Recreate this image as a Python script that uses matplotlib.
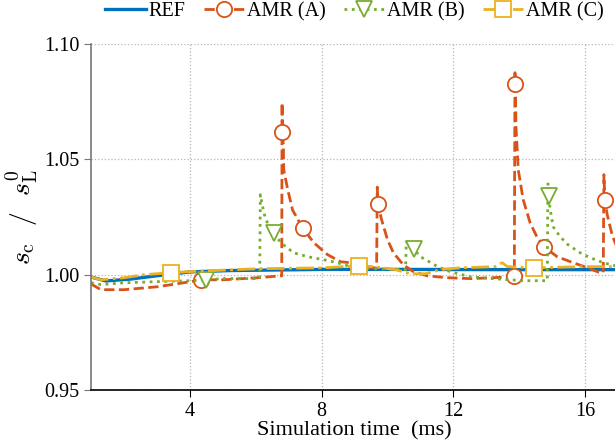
import numpy as np
import matplotlib
matplotlib.use("Agg")
import matplotlib.pyplot as plt

plt.rcParams['font.family'] = ['Liberation Serif', 'DejaVu Serif']
plt.rcParams['mathtext.fontset'] = 'cm'

# normalised consumption speed vs simulation time (ms)
t_ref = [1.0, 1.45, 2.2, 3.2, 4.0, 5.2, 8.0, 10.4, 13.4, 17.0]
v_ref = [0.9990, 0.9973, 0.9981, 0.9999, 1.0012, 1.0018, 1.0023, 1.0023, 1.0022, 1.0022]

t_a = [1.0, 1.30, 2.0, 3.03, 4.03, 4.33, 5.03, 6.06, 6.76, 6.79,
       6.80, 6.81, 6.84, 6.85, 6.97, 7.12, 7.42, 7.76, 8.18, 8.58,
       8.88, 9.09, 9.58, 9.67, 9.69, 9.71, 9.82, 10.0, 10.18, 10.48,
       10.79, 11.21, 11.82, 12.52, 13.21, 13.73, 13.85, 13.87, 13.88, 13.90,
       13.97, 14.12, 14.33, 14.55, 14.76, 15.15, 15.64, 16.15, 16.39, 16.55,
       16.57, 16.60, 16.67, 16.82, 16.91, 17.0]
v_a = [0.9960, 0.9935, 0.9935, 0.9948, 0.9970, 0.9978, 0.9978, 0.9987, 0.9995, 0.9995,
       1.0746, 1.0620, 1.0555, 1.0455, 1.0370, 1.0280, 1.0204, 1.0139, 1.0087, 1.0056,
       1.0052, 1.0043, 1.0030, 1.0029, 1.0380, 1.0308, 1.0239, 1.0152, 1.0095, 1.0043,
       1.0013, 0.9995, 0.9987, 0.9983, 0.9987, 0.9991, 0.9995, 1.0876, 1.0828, 1.0642,
       1.0455, 1.0325, 1.0225, 1.0160, 1.0121, 1.0078, 1.0052, 1.0026, 1.0012, 1.0010,
       1.0434, 1.0325, 1.0260, 1.0173, 1.0139, 1.0110]
mark_a = [4.33, 6.81, 7.42, 9.71, 13.85, 13.88, 14.76, 16.60]

t_b = [1.0, 1.30, 2.0, 3.03, 4.03, 4.48, 5.03, 6.06, 6.12, 6.14,
       6.21, 6.30, 6.55, 6.76, 7.15, 7.58, 8.06, 8.48, 8.88, 9.58,
       10.48, 10.55, 10.57, 10.79, 11.0, 11.21, 11.52, 11.91, 12.52, 13.21,
       14.12, 14.73, 14.85, 14.87, 14.89, 14.94, 15.03, 15.24, 15.48, 15.85,
       16.15, 16.55, 16.91, 17.0]
v_b = [0.9965, 0.9957, 0.9965, 0.9970, 0.9974, 0.9978, 0.9983, 0.9983, 0.9983, 1.0347,
       1.0295, 1.0239, 1.0182, 1.0139, 1.0095, 1.0078, 1.0065, 1.0052, 1.0035, 1.0026,
       1.0022, 1.0022, 1.0143, 1.0113, 1.0078, 1.0061, 1.0035, 1.0013, 0.9991, 0.9983,
       0.9974, 0.9974, 0.9974, 1.0399, 1.0343, 1.0282, 1.0208, 1.0165, 1.0130, 1.0095,
       1.0074, 1.0052, 1.0039, 1.0037]
mark_b = [4.48, 6.55, 10.79, 14.89]

t_c = [1.0, 1.30, 2.0, 2.61, 3.42, 3.94, 4.55, 6.06, 8.06, 9.12,
       9.58, 10.24, 10.70, 11.15, 11.6, 12.21, 13.27, 13.48, 13.64, 14.45,
       15.94, 17.0]
v_c = [0.9990, 0.9978, 0.9987, 1.0000, 1.0009, 1.0013, 1.0017, 1.0026, 1.0030, 1.0039,
       1.0035, 1.0022, 1.0004, 1.0004, 1.0022, 1.0030, 1.0035, 1.0052, 1.0035, 1.0030,
       1.0035, 1.0035]
mark_c = [3.42, 9.12, 14.45]


def mark_idx(t, marks):
    t = np.asarray(t)
    return [int(np.argmin(np.abs(t - m))) for m in marks]


fig = plt.figure(figsize=(6.15, 4.41), dpi=100)
ax = fig.add_axes([0.148, 0.1156, 0.857, 0.7844])

ax.plot(t_ref, v_ref, '-', color='#0072BD', lw=2.4, label='REF')
ax.plot(t_a, v_a, '--', color='#D95319', lw=2, marker='o', ms=11, mfc='white',
        mew=1.3, markevery=mark_idx(t_a, mark_a), label='AMR (A)')
ax.plot(t_b, v_b, ':', color='#77AC30', lw=2, marker='v', ms=11, mfc='white',
        mew=1.3, markevery=mark_idx(t_b, mark_b), label='AMR (B)')
ax.plot(t_c, v_c, '-.', color='#EDB120', lw=2, marker='s', ms=11, mfc='white',
        mew=1.3, markevery=mark_idx(t_c, mark_c), label='AMR (C)')

ax.set_xlim(1, 17)
ax.set_ylim(0.95, 1.10)
ax.set_xticks([4, 8, 12, 16])
ax.set_yticks([0.95, 1.00, 1.05, 1.10])
ax.set_yticklabels(['0.95', '1.00', '1.05', '1.10'])
ax.grid(True, ls=':', color='#b5b5b5', lw=0.9)
ax.set_axisbelow(True)

for s in ['top', 'right']:
    ax.spines[s].set_visible(False)
ax.spines['left'].set_color('#777777')
ax.spines['left'].set_linewidth(1.2)
ax.spines['bottom'].set_linewidth(1.2)
ax.tick_params(direction='out', length=5, labelsize=14.5)
ax.tick_params(axis='y', color='#777777')

ax.set_xlabel('Simulation time  (ms)', fontsize=16, labelpad=0)
ax.set_ylabel(r'$s_{\mathrm{c}}\ \ /\ \ s_{\mathrm{L}}^{0}$', fontsize=20, labelpad=3)

ax.legend(loc='upper center', bbox_to_anchor=(0.5, 1.145), ncol=4, frameon=False,
          fontsize=14.5, handlelength=2.0, handletextpad=0.15, columnspacing=0.9,
          borderaxespad=0)

fig.savefig('out.png', dpi=100)
